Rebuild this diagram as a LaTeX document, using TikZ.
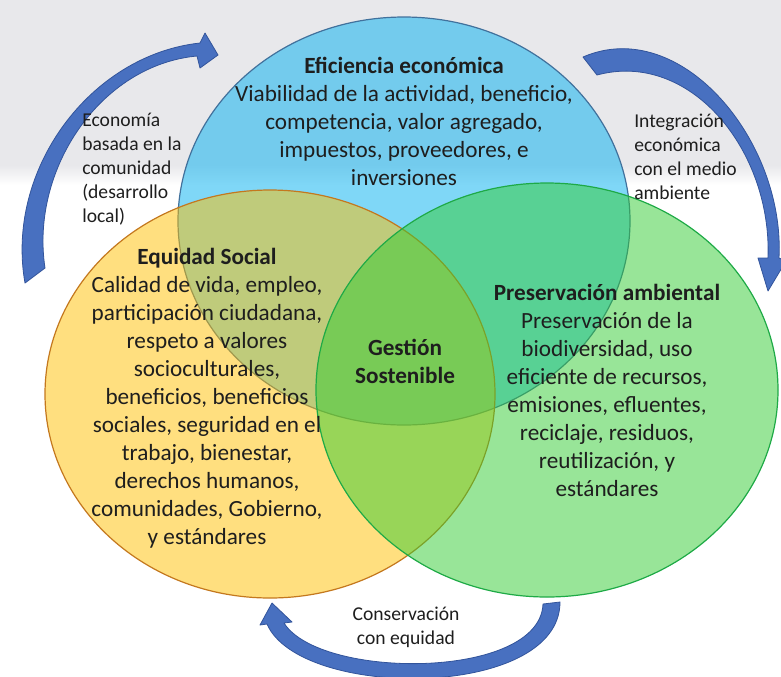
\documentclass[tikz,border=0pt]{standalone}
\usepackage{fontspec}
\setmainfont{Carlito}
\begin{document}
\begin{tikzpicture}[x=0.75pt,y=-0.75pt]

	% Define colours and node styles
	\definecolor{ecoblue}{RGB}{0,176,240}
	\definecolor{ecoedge}{RGB}{65,113,156}
	\definecolor{socgold}{RGB}{255,192,0}
	\definecolor{socedge}{RGB}{196,120,30}
	\definecolor{envgreen}{RGB}{51,204,51}
	\definecolor{envedge}{RGB}{30,170,70}
	\definecolor{arrowfill}{RGB}{72,112,192}
	\definecolor{arrowedge}{RGB}{50,84,155}
	\definecolor{backgray}{RGB}{232,232,235}
	\definecolor{textdark}{RGB}{30,30,30}
	\tikzstyle{area text} = [align=center, inner sep=0pt, text=textdark, font=\fontsize{17.4}{21}\selectfont]
	\tikzstyle{side text} = [align=left, anchor=west, inner sep=0pt, text=textdark, font=\fontsize{14.7}{18}\selectfont]
	\tikzstyle{turn arrow} = [fill=arrowfill, draw=arrowedge, line width=0.6pt, line join=round]

	\useasboundingbox (0,0) rectangle (781,676);
	\clip (0,0) rectangle (781,676);

	% Background
	\fill[white] (0,0) rectangle (781,676);
	\fill[backgray] (0,0) rectangle (781,165);
	\shade[top color=backgray, bottom color=white] (0,165) rectangle (781,185);

	% Circles
	\draw[fill=ecoblue, fill opacity=0.5, draw=ecoedge, line width=0.9pt]
		(404,221) ellipse [x radius=169.5pt, y radius=153pt];
	\draw[fill=socgold, fill opacity=0.5, draw=socedge, line width=0.9pt]
		(270,394) ellipse [x radius=168.75pt, y radius=153pt];
	\draw[fill=envgreen, fill opacity=0.5, draw=envedge, line width=0.9pt]
		(547,390) ellipse [x radius=173.25pt, y radius=155.25pt];

	% Curved arrows
	\filldraw[turn arrow] (25,283) .. controls (5,170) and (90,55) .. (200,43)
		-- (205,33) -- (218,55) -- (200,68) -- (197,56)
		.. controls (100,65) and (30,170) .. (45,268) -- cycle;
	\filldraw[turn arrow] (583,57) .. controls (680,15) and (785,140) .. (779,258)
		-- (786,261) -- (768,291) -- (758,258) -- (768,258)
		.. controls (772,150) and (690,50) .. (597,75) -- cycle;
	\filldraw[turn arrow] (560,602) .. controls (560,700) and (300,700) .. (267,624)
		-- (260,625) -- (272,603) -- (292,622) -- (284,623)
		.. controls (320,680) and (540,680) .. (543,604) -- cycle;

	% Texts
	\node[area text] (economic) at (404,121) {\textbf{Eficiencia económica}\\
		Viabilidad de la actividad, beneficio,\\competencia, valor agregado,\\
		impuestos, proveedores, e\\inversiones};
	\node[area text] (social) at (207,398) {\textbf{Equidad Social}\\
		Calidad de vida, empleo,\\participación ciudadana,\\respeto a valores\\
		socioculturales,\\beneficios, beneficios\\sociales, seguridad en el\\
		trabajo, bienestar,\\derechos humanos,\\comunidades, Gobierno,\\y estándares};
	\node[area text] (environment) at (607,390) {\textbf{Preservación ambiental}\\
		Preservación de la\\biodiversidad, uso\\eficiente de recursos,\\
		emisiones, efluentes,\\reciclaje, residuos,\\reutilización, y\\estándares};
	\node[area text] (core) at (405,361) {\textbf{Gestión}\\\textbf{Sostenible}};

	\node[side text] (community) at (82,169) {Economía\\basada en la\\comunidad\\(desarrollo\\local)};
	\node[side text] (integration) at (634,157) {Integración\\económica\\con el medio\\ambiente};
	\node[side text, align=center, anchor=center] (conservation) at (406,627) {Conservación\\con equidad};

\end{tikzpicture}
\end{document}
